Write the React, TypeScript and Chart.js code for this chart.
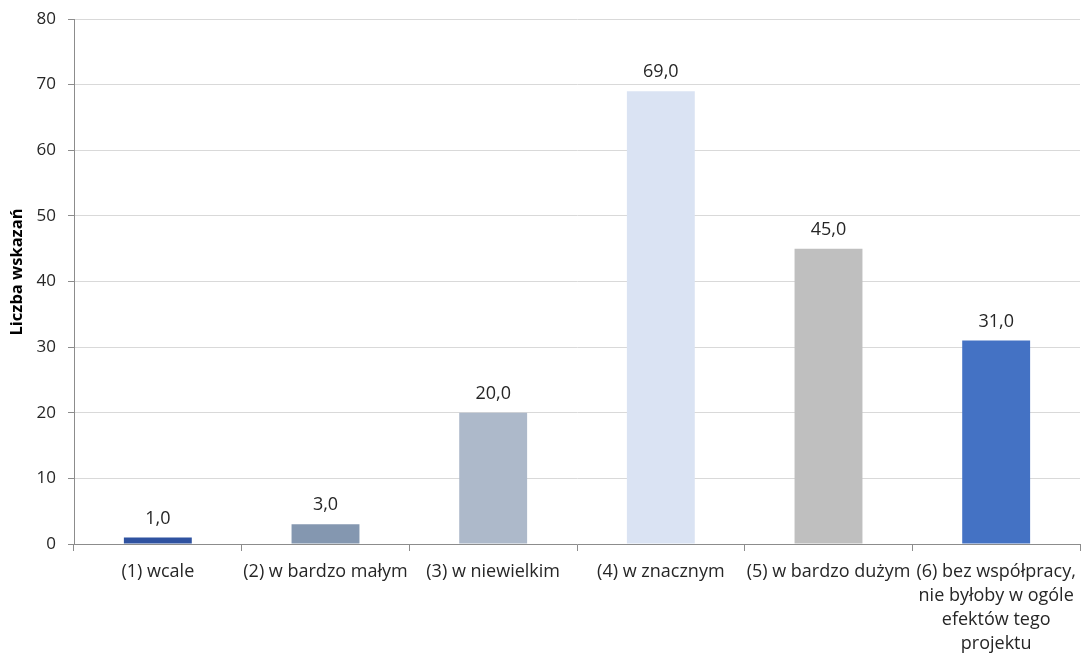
import React, { useEffect, useRef } from "react";
import { Chart, registerables } from "chart.js";

Chart.register(...registerables);

const categories: (string | string[])[] = [
  "(1) wcale",
  "(2) w bardzo małym",
  "(3) w niewielkim",
  "(4) w znacznym",
  "(5) w bardzo dużym",
  ["(6) bez współpracy,", "nie byłoby w ogóle", "efektów tego", "projektu"],
];
const values = [1, 3, 20, 69, 45, 31];
const barColors = ["#2F52A0", "#8497B0", "#ADB9CA", "#DAE3F3", "#BFBFBF", "#4472C4"];
const yTitle = "Liczba wskazań";

const FONT = "'Open Sans', 'Liberation Sans', sans-serif";

const dataLabels = {
  id: "dataLabels",
  afterDatasetsDraw(chart: any) {
    const ctx = chart.ctx;
    const meta = chart.getDatasetMeta(0);
    ctx.save();
    ctx.font = `18px ${FONT}`;
    ctx.fillStyle = "#262626";
    ctx.textAlign = "center";
    ctx.textBaseline = "middle";
    meta.data.forEach((bar: any, i: number) => {
      const txt = values[i].toFixed(1).replace(".", ",");
      ctx.fillText(txt, bar.x, bar.y - 19);
    });
    // y axis title
    ctx.translate(17, 272);
    ctx.rotate(-Math.PI / 2);
    ctx.font = `bold 16.5px ${FONT}`;
    ctx.fillStyle = "#000";
    ctx.fillText(yTitle, 0, 0);
    ctx.restore();
  },
};

export default function App() {
  const ref = useRef<HTMLCanvasElement>(null);
  useEffect(() => {
    const chart = new Chart(ref.current!, {
      type: "bar",
      data: {
        labels: categories,
        datasets: [
          {
            data: values,
            backgroundColor: barColors,
            barPercentage: 0.405,
            categoryPercentage: 1,
          },
        ],
      },
      options: {
        animation: false,
        responsive: false,
        maintainAspectRatio: false,
        layout: { padding: { left: 0, right: 3, top: 19, bottom: 0 } },
        plugins: { legend: { display: false }, tooltip: { enabled: false } },
        scales: {
          x: {
            offset: true,
            grid: {
              offset: true,
              drawOnChartArea: false,
              drawTicks: true,
              tickLength: 7,
              color: "#8c8c8c",
            },
            border: { color: "#8c8c8c" },
            ticks: {
              color: "#262626",
              font: { family: FONT, size: 18, lineHeight: 1.33 },
              maxRotation: 0,
              autoSkip: false,
              padding: 9,
            },
            afterFit(scale: any) {
              scale.height = 109;
              scale.paddingLeft = 0;
              scale.paddingRight = 0;
            },
          },
          y: {
            min: 0,
            max: 80,
            ticks: {
              stepSize: 10,
              color: "#262626",
              font: { family: FONT, size: 17 },
              padding: 12,
            },
            grid: { color: "#d9d9d9", tickLength: 6, tickColor: "#8c8c8c" },
            border: { color: "#8c8c8c" },
            afterFit(scale: any) {
              scale.width = 74;
              scale.paddingTop = 0;
              scale.paddingBottom = 0;
            },
          },
        },
      },
      plugins: [dataLabels],
    } as any);
    return () => chart.destroy();
  }, []);
  return (
    <div style={{ position: "absolute", left: 0, top: 0, width: 1083, height: 653, background: "#fff" }}>
      <canvas ref={ref} width={1083} height={653} style={{ display: "block" }} />
    </div>
  );
}
